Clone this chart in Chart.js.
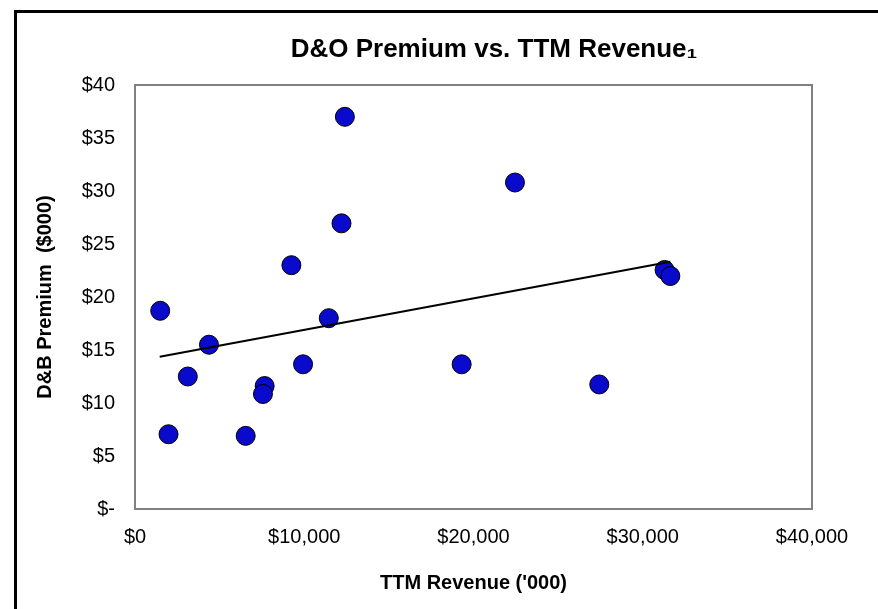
<!DOCTYPE html>
<html>
<head>
<meta charset="utf-8">
<script src="https://cdn.jsdelivr.net/npm/chart.js@4.4.1/dist/chart.umd.min.js"></script>
<style>
  html, body { margin: 0; padding: 0; background: #fff; overflow: hidden; }
  #wrap { width: 878px; height: 609px; position: relative; }
</style>
</head>
<body>
<div id="wrap"><canvas id="chart"></canvas></div>
<script>
// 데이터
const revenue = [12400, 22450, 12200, 9240, 1490, 11450, 4370, 3120, 9930, 7660, 7560, 1980, 6540, 19300, 27430, 31290, 31630];
const premium = [37.0, 30.8, 26.95, 23.0, 18.7, 18.0, 15.5, 12.5, 13.65, 11.6, 10.85, 7.05, 6.9, 13.65, 11.75, 22.55, 21.98];

// 추세선 양 끝
const trendX = [1460, 31630];
const trendY = [14.37, 23.33];

const chartTitle = 'D&O Premium vs. TTM Revenue\u2081';
const xTitle = "TTM Revenue ('000)";
const yTitle = 'D&B Premium  ($000)';

const FONT = 'Arial, "Liberation Sans", sans-serif';

// 바깥 테두리 + 제목 + 플롯 영역 테두리
const framePlugin = {
    id: 'frame',
    beforeDraw(chart) {
        const ctx = chart.ctx;
        ctx.save();
        ctx.fillStyle = '#fff';
        ctx.fillRect(0, 0, chart.width, chart.height);
        ctx.strokeStyle = '#000';
        ctx.lineWidth = 3;
        ctx.strokeRect(15.5, 11.5, 1000, 1000);
        ctx.restore();
    },
    afterDatasetsDraw(chart) {
        const ctx = chart.ctx;
        const a = chart.chartArea;
        ctx.save();
        ctx.strokeStyle = '#808080';
        ctx.lineWidth = 2;
        ctx.strokeRect(a.left, a.top, a.right - a.left, a.bottom - a.top);
        ctx.fillStyle = '#000';
        ctx.font = 'bold 26px ' + FONT;
        ctx.textAlign = 'center';
        ctx.textBaseline = 'middle';
        ctx.fillText(chartTitle, 494, 50);
        ctx.restore();
    }
};

const ctx = document.getElementById('chart').getContext('2d');
new Chart(ctx, {
    type: 'scatter',
    data: {
        datasets: [{
            type: 'line',
            label: 'Trend',
            data: trendX.map((x, i) => ({ x: x, y: trendY[i] })),
            borderColor: '#000',
            borderWidth: 2,
            pointRadius: 0,
            fill: false,
            order: 0
        }, {
            label: 'D&O Premium',
            data: revenue.map((x, i) => ({ x: x, y: premium[i] })),
            backgroundColor: '#0a0acc',
            borderColor: '#000',
            borderWidth: 1,
            pointRadius: 9.5,
            order: 1
        }]
    },
    options: {
        responsive: true,
        maintainAspectRatio: false,
        animation: false,
        layout: { padding: { left: 15, right: 66, top: 85, bottom: 0 } },
        plugins: {
            legend: { display: false },
            tooltip: { enabled: false },
            title: { display: false }
        },
        scales: {
            x: {
                type: 'linear',
                min: 0,
                max: 40000,
                afterFit: s => { s.height = 100; },
                grid: { display: false, drawTicks: false },
                border: { display: false },
                ticks: {
                    stepSize: 10000,
                    padding: 16,
                    color: '#000',
                    font: { family: FONT, size: 20 },
                    callback: v => '$' + v.toLocaleString('en-US')
                },
                title: {
                    display: true,
                    text: xTitle,
                    color: '#000',
                    font: { family: FONT, size: 20, weight: 'bold' },
                    padding: { top: 10, bottom: 14 }
                }
            },
            y: {
                min: 0,
                max: 40,
                afterFit: s => { s.width = 120; },
                grid: { display: false, drawTicks: false },
                border: { display: false },
                ticks: {
                    stepSize: 5,
                    padding: 20,
                    color: '#000',
                    font: { family: FONT, size: 20 },
                    callback: v => v === 0 ? '$-' : '$' + v
                },
                title: {
                    display: true,
                    text: yTitle,
                    color: '#000',
                    font: { family: FONT, size: 20, weight: 'bold' },
                    padding: { top: 18, bottom: 4 }
                }
            }
        }
    },
    plugins: [framePlugin]
});
</script>
</body>
</html>
